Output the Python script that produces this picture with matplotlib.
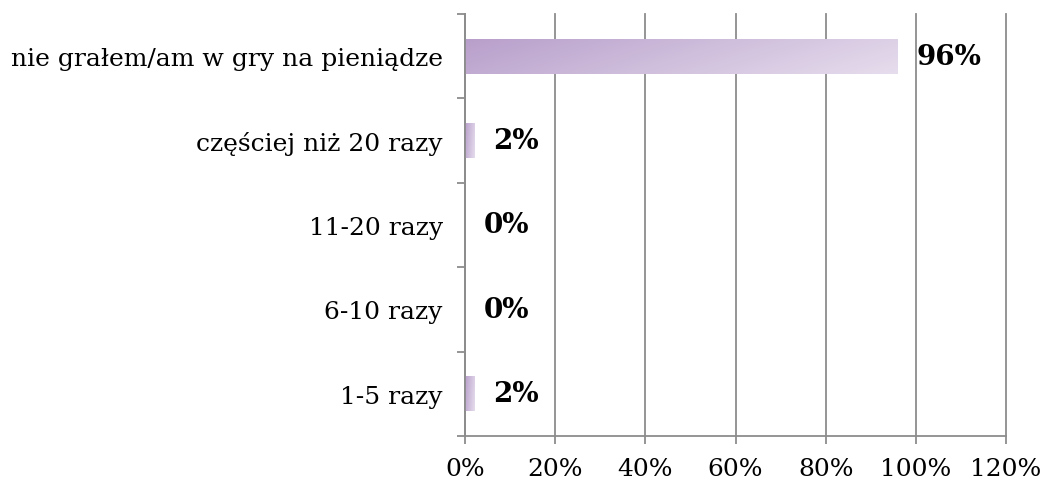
import numpy as np
import matplotlib.pyplot as plt
from matplotlib.colors import LinearSegmentedColormap

categories = ["1-5 razy", "6-10 razy", "11-20 razy", "częściej niż 20 razy",
              "nie grałem/am w gry na pieniądze"]
values = [0.02, 0.0, 0.0, 0.02, 0.96]
xticks = [0, 0.2, 0.4, 0.6, 0.8, 1.0, 1.2]
xlabels = ["0%", "20%", "40%", "60%", "80%", "100%", "120%"]

plt.rcParams["font.family"] = ["DejaVu Serif"]

fig = plt.figure(figsize=(10.46, 4.89), dpi=100)
ax = fig.add_axes([465 / 1046, 52 / 489, 541 / 1046, 422 / 489])

grey = "#8c8c8c"
cmap = LinearSegmentedColormap.from_list("pur", ["#b89fcb", "#e6dded"])
# diagonal-ish gradient like the original fill
grad = np.linspace(0, 1, 256).reshape(1, -1) + np.linspace(0.25, 0, 32).reshape(-1, 1)

ypos = np.arange(len(categories))
h = 0.41
bars = ax.barh(ypos, values, height=h, color="none", zorder=2)
for b, v in zip(bars, values):
    if v <= 0:
        continue
    y0 = b.get_y()
    ax.imshow(grad, cmap=cmap, aspect="auto", vmin=0, vmax=1.25,
              extent=(0, v, y0, y0 + h), origin="lower", zorder=2,
              interpolation="bicubic")

# value labels
for i, v in enumerate(values):
    ax.annotate(f"{v * 100:.0f}%", (v, i), xytext=(13.5, 0),
                textcoords="offset points", va="center", ha="left",
                fontsize=20, fontweight="bold")

ax.set_xlim(0, 1.2)
ax.set_ylim(-0.5, len(categories) - 0.5)
ax.set_xticks(xticks)
ax.set_xticklabels(xlabels, fontsize=18)
ax.set_yticks(ypos)
ax.set_yticklabels(categories, fontsize=18)
ax.set_yticks(np.arange(-0.5, len(categories)), minor=True)
ax.tick_params(axis="y", which="major", length=0, pad=16)
ax.tick_params(axis="y", which="minor", length=6, width=1.3, color=grey, direction="out")
ax.tick_params(axis="x", length=6, width=1.3, color=grey, direction="out", pad=9)

ax.grid(axis="x", color=grey, linewidth=1.3, zorder=0)
for gl in ax.get_xgridlines():
    gl.set_clip_on(False)
ax.set_axisbelow(True)
for s in ["top", "right"]:
    ax.spines[s].set_visible(False)
for s in ["left", "bottom"]:
    ax.spines[s].set_color(grey)
    ax.spines[s].set_linewidth(1.3)

fig.savefig("out.png", dpi=100)
